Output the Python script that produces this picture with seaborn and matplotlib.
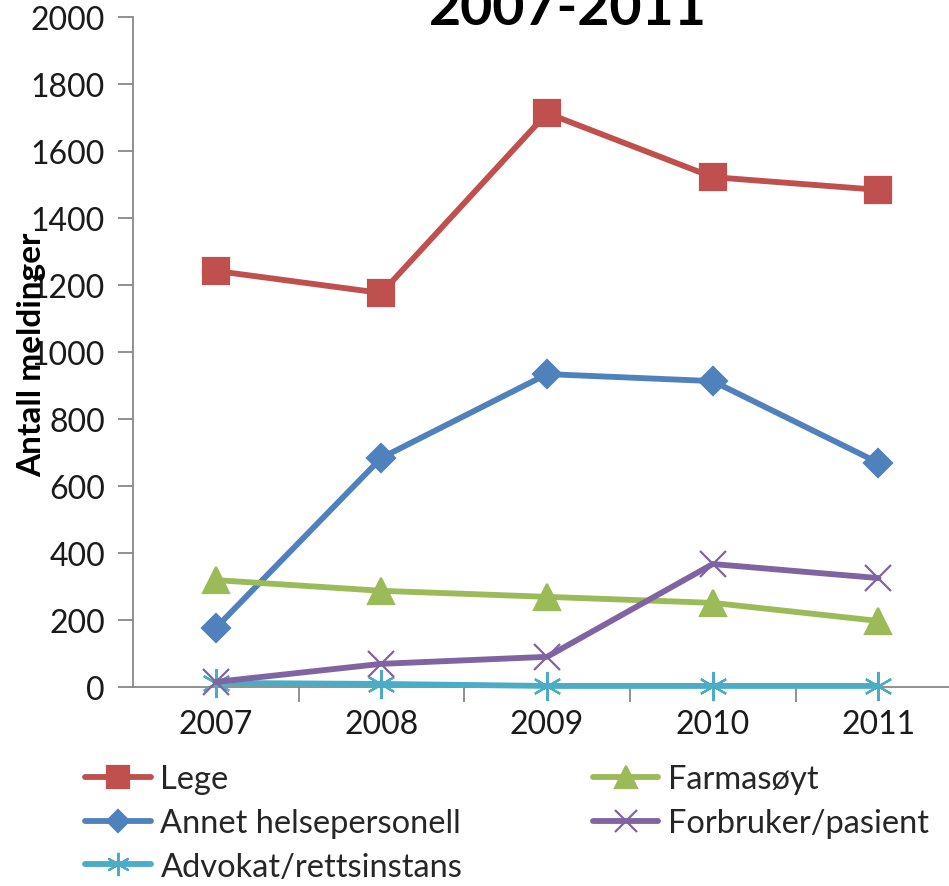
import pandas as pd
import matplotlib
matplotlib.use("Agg")
import matplotlib.pyplot as plt
import seaborn as sns
from matplotlib.ticker import FixedLocator

# Data
years = ["2007", "2008", "2009", "2010", "2011"]
lege = [1242, 1176, 1713, 1522, 1484]
annet = [176, 684, 934, 913, 669]
farmasoyt = [319, 287, 269, 251, 197]
forbruker = [15, 69, 90, 367, 325]
advokat = [12, 9, 3, 3, 3]

series = [
    ("Lege", lege, "#C0504D", "s", 19),
    ("Annet helsepersonell", annet, "#4F81BD", "D", 14),
    ("Advokat/rettsinstans", advokat, "#4BACC6", (6, 2, 0), 21),
    ("Farmasøyt", farmasoyt, "#9BBB59", "^", 19),
    ("Forbruker/pasient", forbruker, "#8064A2", "x", 19),
]

sns.set_theme(style="white")
plt.rcParams["font.family"] = ["Lato", "DejaVu Sans"]

fig = plt.figure(figsize=(9.49, 8.87), dpi=100)
ax = fig.add_axes([0.140, 0.2244, 0.873, 0.7553])

for name, vals, color, marker, ms in series:
    df = pd.DataFrame({"x": range(len(years)), "y": vals})
    sns.lineplot(data=df, x="x", y="y", ax=ax, color=color, linewidth=4.2,
                 marker=marker, markersize=ms, markeredgecolor=color,
                 markeredgewidth=1.6, label=name, clip_on=False, zorder=3)

ax.set_xlim(-0.5, 4.5)
ax.set_ylim(0, 2000)
ax.set_yticks(range(0, 2001, 200))
ax.set_xticks(range(len(years)))
ax.set_xticklabels(years)
ax.xaxis.set_minor_locator(FixedLocator([0.5, 1.5, 2.5, 3.5]))
ax.tick_params(axis="x", which="major", length=0, pad=16, labelsize=23, colors="#1a1a1a")
ax.tick_params(axis="x", which="minor", length=11, width=1.3, color="#888888", direction="out", bottom=True)
ax.tick_params(axis="y", length=11, width=1.3, color="#888888", direction="out", left=True,
               labelsize=23, labelcolor="#1a1a1a", pad=9)

for side in ["top", "right"]:
    ax.spines[side].set_visible(False)
for side in ["left", "bottom"]:
    ax.spines[side].set_color("#888888")
    ax.spines[side].set_linewidth(1.3)
    ax.spines[side].set_zorder(1)

ax.set_xlabel("")
ax.set_ylabel("")
ax.legend_.remove()

fig.text(0.033, 0.600, "Antall meldinger", rotation=90, ha="center", va="center",
         fontsize=24, fontweight="bold", color="black")
fig.text(0.598, 0.99, "2007-2011", ha="center", va="center", fontsize=40,
         fontweight="bold", color="black")

handles, labels = ax.get_legend_handles_labels()
fig.legend(handles, labels, loc="upper left", bbox_to_anchor=(0.09, 0.137),
           ncol=2, frameon=False, fontsize=23.5, handlelength=2.0, handletextpad=0.3,
           columnspacing=4.0, labelspacing=0.42, borderaxespad=0, borderpad=0,
           markerscale=0.8)

fig.savefig("out.png", dpi=100)
